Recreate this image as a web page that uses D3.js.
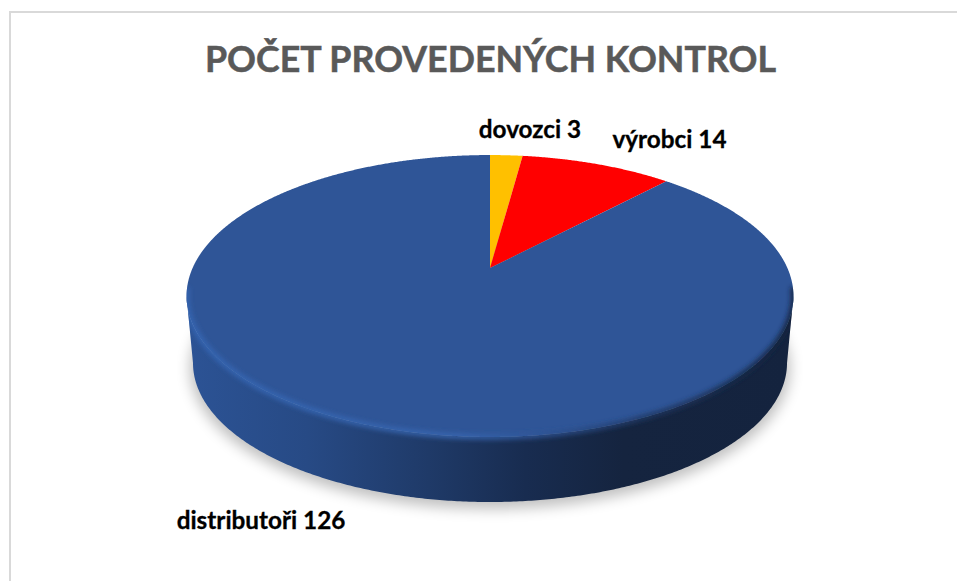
<!DOCTYPE html>
<html>
<head>
<meta charset="utf-8">
<script src="https://cdn.jsdelivr.net/npm/d3@7"></script>
<style>
  html, body { margin: 0; padding: 0; background: #fff; }
  svg { display: block; }
  text { font-family: Lato, "Noto Sans", sans-serif; font-weight: 700; }
</style>
</head>
<body>
<div id="chart"></div>
<script>
const categories = ["dovozci", "výrobci", "distributoři"];
const seriesValues = [3, 14, 126];
const sliceColors = ["#ffc000", "#ff0000", "#2f5597"];
const titleText = "POČET PROVEDENÝCH KONTROL";

const width = 957, height = 581;
const svg = d3.select("#chart").append("svg")
  .attr("width", width).attr("height", height);
const defs = svg.append("defs");

// pie plane seen in perspective: apex is not the middle of the ellipse
const apexX = 490, apexY = 268;
const tilt = 0.1986, scaleX = 297.4, scaleY = 135.4;
const project = (a, r = 1) => {
  const w = 1 + tilt * r * Math.cos(a);
  return [
    apexX + scaleX * r * Math.sin(a) / w,
    apexY - scaleY * r * Math.cos(a) / w,
  ];
};
const line = d3.line();
const rimAngles = d3.range(0, 361, 1).map((d) => (d * Math.PI) / 180);
const rimPath = line(rimAngles.map((a) => project(a))) + "Z";

// lower edge of the disc
const lowerX = 490, lowerY = 363, lowerRx = 297, lowerRy = 139;
const lowerPoint = (a) => [
  lowerX + lowerRx * Math.cos(a),
  lowerY + lowerRy * Math.sin(a),
];

// side wall: rim from right to left, then lower edge from left to right
const widestAngle = Math.acos(-tilt);
const frontRim = d3.range(widestAngle, 2 * Math.PI - widestAngle, 0.01).map((a) => project(a));
const lowerFront = d3.range(Math.PI, 0, -0.01).map(lowerPoint);
const wallPath = line([...frontRim, ...lowerFront]) + "Z";

// gradients and filters
const sideGrad = defs.append("linearGradient").attr("id", "side")
  .attr("gradientUnits", "userSpaceOnUse")
  .attr("x1", 186).attr("x2", 793).attr("y1", 0).attr("y2", 0);
[[0, "#2c5395"], [0.2, "#274a85"], [0.4, "#1f3a68"], [0.56, "#182c50"], [0.72, "#15243f"], [1, "#14233e"]]
  .forEach(([o, c]) => sideGrad.append("stop").attr("offset", o).attr("stop-color", c));

const bevelGrad = defs.append("linearGradient").attr("id", "bevel")
  .attr("gradientUnits", "userSpaceOnUse")
  .attr("x1", 186).attr("x2", 793).attr("y1", 0).attr("y2", 0);
[[0, "#3666b4"], [0.45, "#3766b0"], [0.58, "#2f5597"], [0.75, "#1f3864"], [1, "#14233e"]]
  .forEach(([o, c]) => bevelGrad.append("stop").attr("offset", o).attr("stop-color", c));

defs.append("filter").attr("id", "soft")
  .attr("x", "-10%").attr("y", "-20%").attr("width", "120%").attr("height", "140%")
  .append("feGaussianBlur").attr("stdDeviation", 7);
defs.append("filter").attr("id", "softEdge")
  .attr("filterUnits", "userSpaceOnUse")
  .attr("x", 150).attr("y", 250).attr("width", 680).attr("height", 230)
  .append("feGaussianBlur").attr("stdDeviation", 2.4);
const discClip = defs.append("clipPath").attr("id", "discClip");
discClip.append("path").attr("d", rimPath);
discClip.append("path").attr("d", wallPath);

// chart frame, right and bottom sides run off the picture
svg.append("rect")
  .attr("x", 10).attr("y", 12)
  .attr("width", width).attr("height", height)
  .attr("fill", "#fff").attr("stroke", "#d9d9d9").attr("stroke-width", 2);

// title
svg.append("text")
  .attr("x", 490.5).attr("y", 72)
  .attr("text-anchor", "middle")
  .attr("font-size", 35.8)
  .attr("fill", "#595959")
  .attr("stroke", "#595959")
  .attr("stroke-width", 0.5)
  .text(titleText);

// shadow under the disc
svg.append("ellipse")
  .attr("cx", lowerX).attr("cy", lowerY + 5)
  .attr("rx", lowerRx + 3).attr("ry", lowerRy + 2)
  .attr("fill", "#000").attr("opacity", 0.25)
  .attr("filter", "url(#soft)");

// side wall
svg.append("path").attr("d", wallPath).attr("fill", "url(#side)");

// slices on the top face
const pie = d3.pie().sort(null).value((d) => d)(seriesValues);
const slicePath = (d) => {
  const steps = d3.range(d.startAngle, d.endAngle, 0.005).concat(d.endAngle);
  return line([[apexX, apexY], ...steps.map((a) => project(a))]) + "Z";
};
svg.append("g").selectAll("path")
  .data(pie)
  .join("path")
  .attr("d", slicePath)
  .attr("fill", (d, i) => sliceColors[i]);

// rounded front edge of the top face, soft on both sides of the rim
svg.append("g").attr("clip-path", "url(#discClip)")
  .append("path")
  .attr("d", line(d3.range(widestAngle - 0.06, 2 * Math.PI - widestAngle + 0.06, 0.01).map((a) => project(a))))
  .attr("fill", "none")
  .attr("stroke", "url(#bevel)")
  .attr("stroke-width", 5)
  .attr("filter", "url(#softEdge)");

// data labels
const labelPos = [[530, 138], [669.5, 148], [261, 529]];
svg.append("g").selectAll("text")
  .data(categories)
  .join("text")
  .attr("x", (d, i) => labelPos[i][0])
  .attr("y", (d, i) => labelPos[i][1])
  .attr("text-anchor", "middle")
  .attr("font-size", 24.3)
  .attr("fill", "#000")
  .attr("stroke", "#000")
  .attr("stroke-width", 0.3)
  .text((d, i) => `${d} ${seriesValues[i]}`);
</script>
</body>
</html>
